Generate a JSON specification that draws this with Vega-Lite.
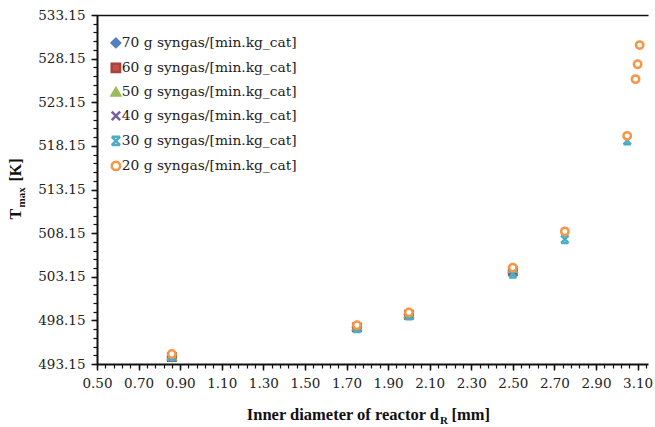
{
  "$schema": "https://vega.github.io/schema/vega-lite/v6.json",
  "width": 551,
  "height": 349,
  "autosize": {"type": "none"},
  "padding": {"left": 97, "top": 15, "right": 7, "bottom": 63},
  "background": "white",
  "config": {
    "view": {"stroke": null},
    "font": "Liberation Serif",
    "axis": {"labelFont": "DejaVu Serif", "titleFont": "Liberation Serif", "labelColor": "#222", "titleColor": "#111", "grid": false, "domainColor": "#111", "tickColor": "#111"},
    "legend": {"labelFont": "DejaVu Serif"}
  },
  "data": {
    "values": [
      {"series": "70 g syngas/[min.kg_cat]", "d": 0.86, "T": 493.95},
      {"series": "70 g syngas/[min.kg_cat]", "d": 1.75, "T": 497.35},
      {"series": "70 g syngas/[min.kg_cat]", "d": 2.0, "T": 498.8},
      {"series": "70 g syngas/[min.kg_cat]", "d": 2.5, "T": 503.8},
      {"series": "60 g syngas/[min.kg_cat]", "d": 0.86, "T": 493.95},
      {"series": "60 g syngas/[min.kg_cat]", "d": 1.75, "T": 497.35},
      {"series": "60 g syngas/[min.kg_cat]", "d": 2.0, "T": 498.8},
      {"series": "60 g syngas/[min.kg_cat]", "d": 2.5, "T": 503.8},
      {"series": "50 g syngas/[min.kg_cat]", "d": 0.86, "T": 494.05},
      {"series": "50 g syngas/[min.kg_cat]", "d": 1.75, "T": 497.45},
      {"series": "50 g syngas/[min.kg_cat]", "d": 2.0, "T": 498.9},
      {"series": "50 g syngas/[min.kg_cat]", "d": 2.5, "T": 504.05},
      {"series": "40 g syngas/[min.kg_cat]", "d": 0.86, "T": 493.95},
      {"series": "40 g syngas/[min.kg_cat]", "d": 1.75, "T": 497.3},
      {"series": "40 g syngas/[min.kg_cat]", "d": 2.0, "T": 498.75},
      {"series": "40 g syngas/[min.kg_cat]", "d": 2.5, "T": 503.7},
      {"series": "30 g syngas/[min.kg_cat]", "d": 0.86, "T": 494.0},
      {"series": "30 g syngas/[min.kg_cat]", "d": 1.75, "T": 497.25},
      {"series": "30 g syngas/[min.kg_cat]", "d": 2.0, "T": 498.7},
      {"series": "30 g syngas/[min.kg_cat]", "d": 2.5, "T": 503.5},
      {"series": "30 g syngas/[min.kg_cat]", "d": 2.75, "T": 507.45},
      {"series": "30 g syngas/[min.kg_cat]", "d": 3.05, "T": 518.75},
      {"series": "20 g syngas/[min.kg_cat]", "d": 0.86, "T": 494.3},
      {"series": "20 g syngas/[min.kg_cat]", "d": 1.75, "T": 497.6},
      {"series": "20 g syngas/[min.kg_cat]", "d": 2.0, "T": 499.05},
      {"series": "20 g syngas/[min.kg_cat]", "d": 2.5, "T": 504.2},
      {"series": "20 g syngas/[min.kg_cat]", "d": 2.75, "T": 508.35},
      {"series": "20 g syngas/[min.kg_cat]", "d": 3.05, "T": 519.3},
      {"series": "20 g syngas/[min.kg_cat]", "d": 3.09, "T": 525.8},
      {"series": "20 g syngas/[min.kg_cat]", "d": 3.1, "T": 527.5},
      {"series": "20 g syngas/[min.kg_cat]", "d": 3.11, "T": 529.7}
    ]
  },
  "layer": [
    {
      "mark": {"type": "point", "size": 55, "strokeWidth": 2.5, "opacity": 1},
      "encoding": {
        "x": {"field": "d", "type": "quantitative",
          "scale": {"domain": [0.5, 3.15], "nice": false, "zero": false},
          "axis": {"orient": "bottom", "values": [0.5,0.7,0.9,1.1,1.3,1.5,1.7,1.9,2.1,2.3,2.5,2.7,2.9,3.1], "format": ".2f", "tickSize": 6, "tickWidth": 1.5, "domainWidth": 2, "labelFont": "DejaVu Serif", "labelFontSize": 13.5, "labelPadding": 6, "labelFlush": false, "labelOverlap": false,
            "title": "Inner diameter of reactor d", "titleFontSize": 16.5, "titleFontWeight": "bold", "titleAlign": "right", "titleBaseline": "alphabetic", "titleX": 341.5, "titleY": 55}},
        "y": {"field": "T", "type": "quantitative",
          "scale": {"domain": [493.15, 533.15], "nice": false, "zero": false},
          "axis": {"orient": "left", "values": [493.15,498.15,503.15,508.15,513.15,518.15,523.15,528.15,533.15], "format": ".2f", "tickSize": 6, "tickWidth": 1.5, "domainWidth": 2, "labelFont": "DejaVu Serif", "labelFontSize": 13.5, "labelPadding": 6, "labelFlush": false, "labelOverlap": false,
            "title": "T", "titleFontSize": 16, "titleFontWeight": "bold", "titleAngle": 270, "titleAlign": "left", "titleBaseline": "alphabetic", "titleX": -77, "titleY": 204}},
        "stroke": {"field": "series", "type": "nominal",
          "scale": {"domain": ["70 g syngas/[min.kg_cat]","60 g syngas/[min.kg_cat]","50 g syngas/[min.kg_cat]","40 g syngas/[min.kg_cat]","30 g syngas/[min.kg_cat]","20 g syngas/[min.kg_cat]"],
            "range": ["#4F81BD","#A9423F","#9BBB59","#7A5C9E","#4BACC6","#F79646"]},
          "legend": {"orient": "none", "legendX": 12, "legendY": 21, "title": null, "labelFont": "DejaVu Serif", "labelFontSize": 13.8, "labelColor": "#222", "symbolSize": 70, "symbolStrokeWidth": 2.5, "rowPadding": 5, "labelOffset": -1, "labelLimit": 400}},
        "fill": {"field": "series", "type": "nominal",
          "scale": {"domain": ["70 g syngas/[min.kg_cat]","60 g syngas/[min.kg_cat]","50 g syngas/[min.kg_cat]","40 g syngas/[min.kg_cat]","30 g syngas/[min.kg_cat]","20 g syngas/[min.kg_cat]"],
            "range": ["#4F81BD","#C0504D","#9BBB59","#8064A2","#4BACC6","#FFFFFF"]}},
        "shape": {"field": "series", "type": "nominal",
          "scale": {"domain": ["70 g syngas/[min.kg_cat]","60 g syngas/[min.kg_cat]","50 g syngas/[min.kg_cat]","40 g syngas/[min.kg_cat]","30 g syngas/[min.kg_cat]","20 g syngas/[min.kg_cat]"],
            "range": ["diamond","square","triangle-up","M-1,-1L1,1M-1,1L1,-1","M-1,-1L1,1M-1,1L1,-1M-1,-1L1,-1M-1,1L1,1","circle"]}}
      }
    },
    {
      "mark": {"type": "point", "opacity": 0},
      "encoding": {
        "x": {"field": "d", "type": "quantitative",
          "axis": {"orient": "bottom", "values": [0.5,0.54,0.58,0.62,0.66,0.7,0.74,0.78,0.82,0.86,0.9,0.94,0.98,1.02,1.06,1.1,1.14,1.18,1.22,1.26,1.3,1.34,1.38,1.42,1.46,1.5,1.54,1.58,1.62,1.66,1.7,1.74,1.78,1.82,1.86,1.9,1.94,1.98,2.02,2.06,2.1,2.14,2.18,2.22,2.26,2.3,2.34,2.38,2.42,2.46,2.5,2.54,2.58,2.62,2.66,2.7,2.74,2.78,2.82,2.86,2.9,2.94,2.98,3.02,3.06,3.1,3.14], "labels": false, "domain": false, "tickSize": 4, "tickWidth": 1.2,
            "title": "R", "titleFontSize": 11, "titleFontWeight": "bold", "titleAlign": "left", "titleBaseline": "alphabetic", "titleX": 342.5, "titleY": 59}},
        "y": {"field": "T", "type": "quantitative",
          "axis": {"orient": "left", "values": [493.15,494.15,495.15,496.15,497.15,498.15,499.15,500.15,501.15,502.15,503.15,504.15,505.15,506.15,507.15,508.15,509.15,510.15,511.15,512.15,513.15,514.15,515.15,516.15,517.15,518.15,519.15,520.15,521.15,522.15,523.15,524.15,525.15,526.15,527.15,528.15,529.15,530.15,531.15,532.15,533.15], "labels": false, "domain": false, "tickSize": 4, "tickWidth": 1.2,
            "title": "max", "titleFontSize": 11, "titleFontWeight": "bold", "titleAngle": 270, "titleAlign": "left", "titleBaseline": "alphabetic", "titleX": -73, "titleY": 192}}
      }
    },
    {
      "mark": {"type": "point", "opacity": 0},
      "encoding": {
        "x": {"field": "d", "type": "quantitative",
          "axis": {"orient": "top", "labels": false, "ticks": false, "domain": true, "domainWidth": 1.5, "grid": false,
            "title": "[mm]", "titleFontSize": 16.5, "titleFontWeight": "bold", "titleAlign": "left", "titleBaseline": "alphabetic", "titleX": 354, "titleY": 404}},
        "y": {"field": "T", "type": "quantitative",
          "axis": {"orient": "left", "labels": false, "ticks": false, "domain": false, "grid": false,
            "title": "[K]", "titleFontSize": 16, "titleFontWeight": "bold", "titleAngle": 270, "titleAlign": "left", "titleBaseline": "alphabetic", "titleX": -77, "titleY": 166}}
      }
    }
  ],
  "resolve": {"axis": {"x": "independent", "y": "independent"}}
}
